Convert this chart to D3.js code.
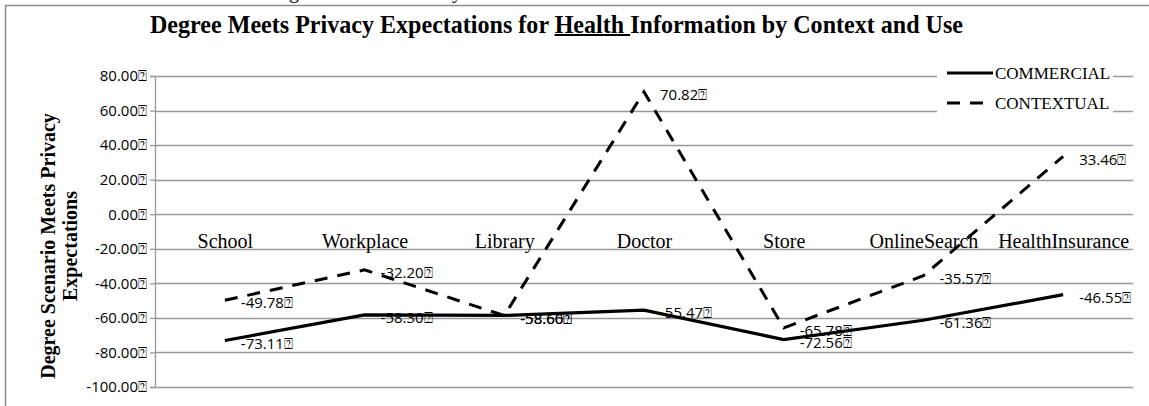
<!DOCTYPE html>
<html><head><meta charset="utf-8">
<script src="https://cdn.jsdelivr.net/npm/d3@7"></script>
<style>
html,body{margin:0;padding:0;background:#fff;}
svg{display:block;}
</style></head>
<body>
<svg id="chart" width="1149" height="406"></svg>
<script>
const categories = ["School","Workplace","Library","Doctor","Store","OnlineSearch","HealthInsurance"];
const commercial = [-73.11, -58.30, -58.60, -55.47, -72.56, -61.36, -46.55];
const contextual = [-49.78, -32.20, -58.66, 70.82, -65.78, -35.57, 33.46];
const yTicks = [-100, -80, -60, -40, -20, 0, 20, 40, 60, 80];
const seriesNames = ["COMMERCIAL", "CONTEXTUAL"];
const titleText = "Degree Meets Privacy Expectations for Health Information by Context and Use";
const underlinedWord = "Health ";
const yTitleLines = ["Degree Scenario Meets Privacy", "Expectations"];
const TOFU = "\u2370";

const svg = d3.select("#chart");
const serif = "'Liberation Serif','Times New Roman',serif";
const sans = "'Open Sans','DejaVu Sans',sans-serif";
const fmt = d3.formatLocale({decimal: ".", thousands: ",", grouping: [3], currency: ["$", ""], minus: "-"}).format(".2f");

const x = d3.scalePoint().domain(categories).range([155, 1133]).padding(0.5);
const y = d3.scaleLinear().domain([-100, 80]).range([387, 76]);

// outer frame
svg.append("path").attr("d", "M5.5,406 L5.5,5.5 L1149,5.5")
  .attr("fill", "none").attr("stroke", "#8c8c8c").attr("stroke-width", 1.5);

// cut-off descenders of the text above the frame
svg.append("text").attr("x", 289).attr("y", -2).attr("font-family", serif).attr("font-size", 20).text("g");
svg.append("text").attr("x", 452).attr("y", -2).attr("font-family", serif).attr("font-size", 20).text("y");

// title
const title = svg.append("text").attr("x", 150).attr("y", 33)
  .attr("font-family", serif).attr("font-weight", "bold").attr("font-size", 25)
  .attr("textLength", 813).attr("lengthAdjust", "spacingAndGlyphs").attr("fill", "#000")
  .text(titleText);
// underline of "Health "
(function () {
  const node = title.node();
  const i0 = titleText.indexOf(underlinedWord);
  const i1 = i0 + underlinedWord.length - 1;
  let x0 = 556, x1 = 632;
  try {
    x0 = node.getStartPositionOfChar(i0).x;
    x1 = node.getEndPositionOfChar(i1).x;
  } catch (e) {}
  svg.append("line").attr("x1", x0).attr("x2", x1).attr("y1", 35).attr("y2", 35)
    .attr("stroke", "#000").attr("stroke-width", 1.8);
})();

// gridlines
svg.append("g").selectAll("line").data(yTicks).join("line")
  .attr("x1", 155).attr("x2", 1133)
  .attr("y1", d => Math.round(y(d)) + 0.5).attr("y2", d => Math.round(y(d)) + 0.5)
  .attr("stroke", "#999").attr("stroke-width", 1.3);

// y axis
const yAxis = svg.append("g").attr("transform", "translate(155,0)")
  .call(d3.axisLeft(y).tickValues(yTicks).tickSize(5).tickPadding(3)
    .tickFormat(d => fmt(d) + TOFU));
yAxis.select(".domain").attr("stroke", "#999").attr("stroke-width", 1.3);
yAxis.selectAll(".tick line").attr("stroke", "#999").attr("stroke-width", 1.3);
yAxis.selectAll(".tick text").attr("font-family", sans).attr("font-size", 15).attr("fill", "#000");

// y axis title
const yt = svg.append("text").attr("transform", "translate(0,246) rotate(-90)")
  .attr("font-family", serif).attr("font-weight", "bold").attr("font-size", 20)
  .attr("text-anchor", "middle").attr("fill", "#000");
yTitleLines.forEach((t, i) => {
  yt.append("tspan").attr("x", 0).attr("y", 55 + i * 22).text(t);
});

// category labels (axis crosses at 0)
const xAxis = svg.append("g").attr("transform", `translate(0,${y(0)})`)
  .call(d3.axisBottom(x).tickSize(0).tickPadding(20));
xAxis.select(".domain").remove();
xAxis.selectAll(".tick text").attr("font-family", serif).attr("font-size", 20).attr("fill", "#000");

// legend
const lg = svg.append("g");
lg.append("rect").attr("x", 937).attr("y", 60).attr("width", 176).attr("height", 66).attr("fill", "#fff");
seriesNames.forEach((name, i) => {
  const yy = 73 + i * 30;
  lg.append("line").attr("x1", 947).attr("x2", 993).attr("y1", yy).attr("y2", yy)
    .attr("stroke", "#000").attr("stroke-width", 3)
    .attr("stroke-dasharray", i === 1 ? "13,10" : null);
  lg.append("text").attr("x", 995).attr("y", yy).attr("dy", "0.35em")
    .attr("font-family", serif).attr("font-size", 17).attr("fill", "#000").text(name);
});

// lines
const line = d3.line().x((d, i) => x(categories[i])).y(d => y(d));
svg.append("path").datum(contextual).attr("d", line).attr("fill", "none")
  .attr("stroke", "#000").attr("stroke-width", 3).attr("stroke-dasharray", "13,10");
svg.append("path").datum(commercial).attr("d", line).attr("fill", "none")
  .attr("stroke", "#000").attr("stroke-width", 3.2);

// data labels
[contextual, commercial].forEach(series => {
  svg.append("g").selectAll("text").data(series).join("text")
    .attr("x", (d, i) => x(categories[i]) + 16)
    .attr("y", d => y(d) + 3)
    .attr("dy", "0.35em")
    .attr("font-family", sans).attr("font-size", 15)
    .attr("fill", "#000")
    .text(d => fmt(d) + TOFU);
});
</script>
</body></html>
